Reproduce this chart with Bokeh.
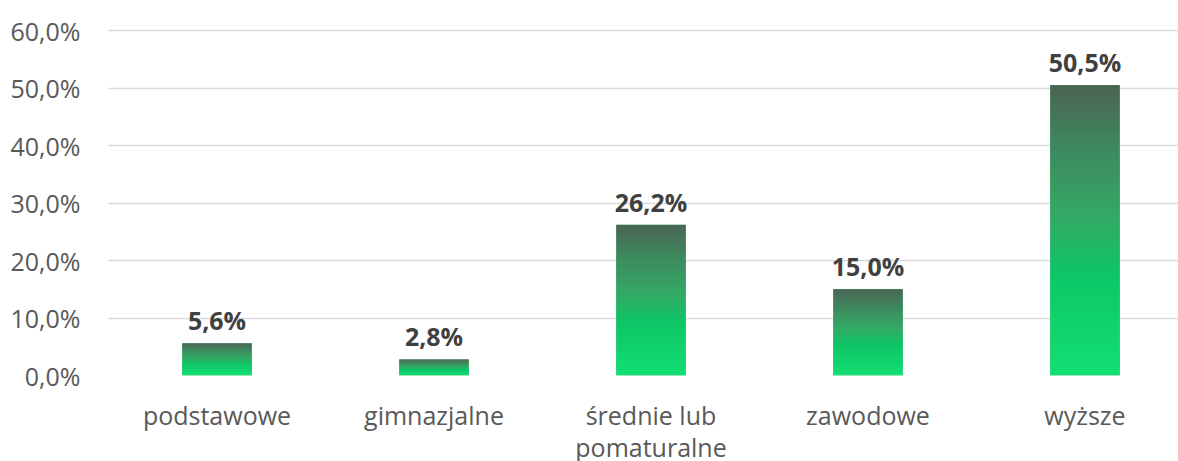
import numpy as np
from bokeh.plotting import figure
from bokeh.models import ColumnDataSource, FixedTicker, Range1d, LabelSet
from bokeh.core.properties import value
from bokeh.embed import file_html
from bokeh.resources import INLINE

categories = ["podstawowe", "gimnazjalne", "średnie lub\npomaturalne", "zawodowe", "wyższe"]
values = [5.6, 2.8, 26.2, 15.0, 50.5]
y_ticks = [0, 10, 20, 30, 40, 50, 60]
y_tick_labels = ["0,0%", "10,0%", "20,0%", "30,0%", "40,0%", "50,0%", "60,0%"]

# gradient stops (fraction of bar height from bottom, rgb)
grad_stops = [(0.0, (18, 223, 115)), (0.35, (14, 198, 102)), (0.55, (51, 169, 101)),
              (0.78, (62, 137, 94)), (1.0, (74, 100, 84))]

def grad_rgb(t):
    for (t0, c0), (t1, c1) in zip(grad_stops[:-1], grad_stops[1:]):
        if t <= t1:
            f = (t - t0) / (t1 - t0)
            return [round(a + (b - a) * f) for a, b in zip(c0, c1)]
    return list(grad_stops[-1][1])

BAR_W = 0.32
ROWS = 256
grad = np.zeros((ROWS, 1), dtype=np.uint32)
gview = grad.view(dtype=np.uint8).reshape((ROWS, 1, 4))
for r in range(ROWS):
    c = grad_rgb((r + 0.5) / ROWS)
    gview[r, 0, 0] = c[0]
    gview[r, 0, 1] = c[1]
    gview[r, 0, 2] = c[2]
    gview[r, 0, 3] = 255

xpos = list(range(len(values)))
bars = ColumnDataSource(dict(x=xpos, top=values))
imgs = ColumnDataSource(dict(image=[grad for _ in values],
                             x=[i - BAR_W / 2 for i in xpos], y=[0] * len(values),
                             dw=[BAR_W] * len(values), dh=values))
lab = ColumnDataSource(dict(x=xpos, y=values,
                            text=[("%.1f%%" % v).replace(".", ",") for v in values]))

PX_PER_UNIT = 345 / 60
p = figure(width=1178, height=461, output_backend="svg", toolbar_location=None,
           x_range=Range1d(-0.5, -0.5 + 1070 / 217),
           y_range=Range1d(0, 60 + 2 / PX_PER_UNIT),
           min_border_left=108, min_border_right=0, min_border_top=28, min_border_bottom=86)
p.frame_width = 1070
p.frame_height = 347
p.outline_line_color = None
p.background_fill_color = "white"

p.ygrid.ticker = FixedTicker(ticks=y_ticks)
p.ygrid.grid_line_color = "#d9d9d9"
p.ygrid.grid_line_width = 1.5
p.xgrid.grid_line_color = None

p.vbar(x="x", top="top", bottom=0, width=BAR_W, source=bars,
       fill_color="#2fb064", line_color=None)
p.image_rgba(image="image", x="x", y="y", dw="dw", dh="dh", source=imgs)

labels = LabelSet(x="x", y="y", text="text", source=lab, text_align="center",
                  text_baseline="alphabetic", y_offset=13, text_font=value("Open Sans"),
                  text_font_style="bold", text_font_size="25px", text_color="#404040")
p.add_layout(labels)

p.xaxis.ticker = FixedTicker(ticks=xpos)
p.xaxis.major_label_overrides = {i: c for i, c in enumerate(categories)}
p.yaxis.ticker = FixedTicker(ticks=y_ticks)
p.yaxis.major_label_overrides = {t: l for t, l in zip(y_ticks, y_tick_labels)}

for ax in (p.xaxis, p.yaxis):
    ax.axis_line_color = None
    ax.major_tick_line_color = None
    ax.minor_tick_line_color = None
    ax.major_label_text_font = "Open Sans"
    ax.major_label_text_font_size = "25px"
    ax.major_label_text_color = "#595959"
p.xaxis.major_label_text_line_height = 0.97
p.xaxis.major_label_standoff = 16
p.yaxis.major_label_standoff = 22

open("out.html", "w").write(file_html(p, INLINE))
